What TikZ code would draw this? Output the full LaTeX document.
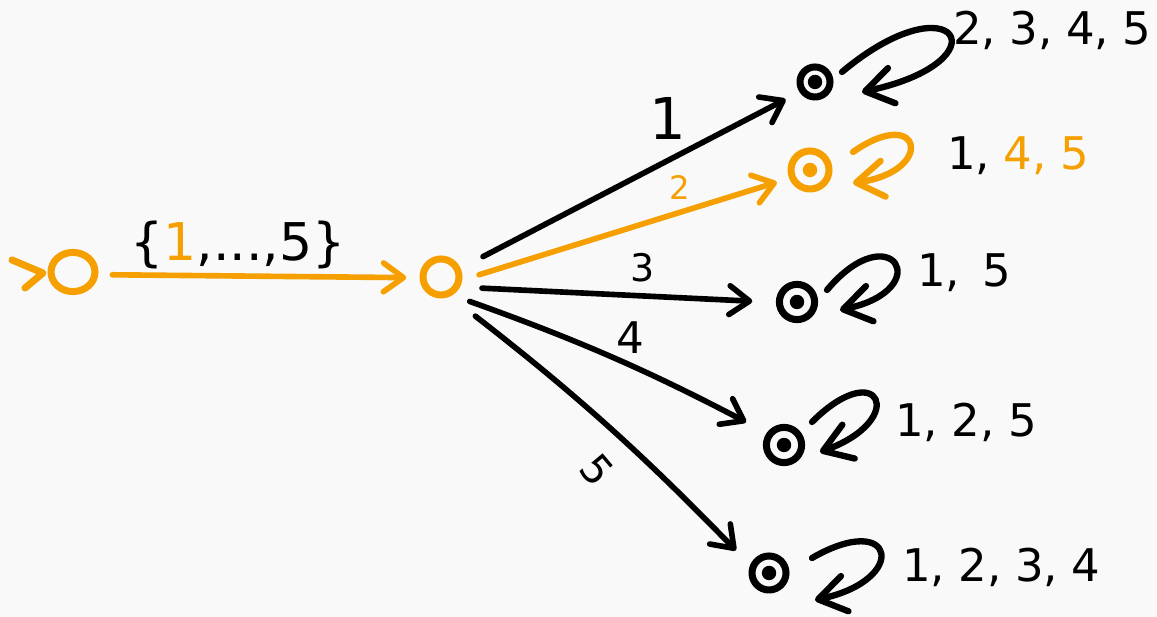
\documentclass[tikz,border=0pt]{standalone}
\usepackage{fontspec}
\setmainfont{DejaVu Sans}
\usepackage{tikz}
\usetikzlibrary{arrows.meta,shapes.geometric}
\definecolor{accent}{HTML}{F59F00}
\definecolor{paper}{HTML}{F9F9F9}
\newcommand{\lsep}{,\hspace{0.3em}}

\begin{document}
\begin{tikzpicture}[
  x=0.025cm,
  y=0.025cm,
  line cap=round,
  line join=round,
  start/.style={ellipse, draw=accent, line width=5pt, inner sep=0pt, minimum width=1.1cm, minimum height=0.98cm},
  plain/.style={circle, draw=accent, line width=5pt, inner sep=0pt, minimum size=0.9cm},
  accept/.style={circle, draw=#1, line width=5pt, inner sep=0pt, minimum size=0.85cm,
    path picture={\fill[#1] (path picture bounding box.center) circle (0.18cm);}},
  accept/.default=black,
  trans/.style={line width=4pt, -{Straight Barb[length=0.5cm,width=0.72cm,round]}},
  selfloop/.style={line width=4.5pt, -{Straight Barb[length=0.68cm,width=0.9cm,round]}},
  lbl/.style={font=\fontsize{32}{36}\selectfont, anchor=base west, inner sep=0pt},
  sym/.style={font=\fontsize{#1}{#1}\selectfont, inner sep=0pt}
]
  \fill[paper] (0,0) rectangle (1157,617);
  \useasboundingbox (0,0) rectangle (1157,617);

  \node[start] (q0) at (73,345) {};
  \node[plain] (q1) at (441,340) {};
  \node[accept, minimum size=0.75cm] (s1) at (815,535) {};
  \node[accept=accent, minimum size=0.95cm] (s2) at (810,447) {};
  \node[accept, minimum size=0.88cm] (s3) at (797,315) {};
  \node[accept, minimum size=0.88cm] (s4) at (784,172) {};
  \node[accept] (s5) at (769,44) {};

  \coordinate (init) at (43,344);
  \draw[accent, line width=5pt] (init) ++(-31,13) -- (init) -- ++(-18,-15);

  \draw[trans, accent, shorten <=0.35cm, shorten >=0.33cm] (q0.-6) -- (q1.182);
  \draw[trans, shorten <=0.63cm, shorten >=0.39cm] (q1.24) -- (s1.213);
  \draw[trans, accent, shorten <=0.44cm, shorten >=0.32cm] (q1.-8) -- (s2.202);
  \draw[trans, shorten <=0.55cm, shorten >=0.59cm] (q1.-28) -- (s3.181);
  \draw[trans, shorten <=0.46cm, shorten >=0.58cm] (q1.-58) to[bend left=4] (s4.145);
  \draw[trans, shorten <=0.8cm, shorten >=0.51cm] (q1.-65) to[bend left=4] (s5.157);

  \foreach \s/\c/\ax/\ay/\bx/\by/\o/\i/\d in {
    s1/black/27/10/47/-10/40/12/3.7cm,
    s2/accent/43/18/43/-13/35/8/2.1cm,
    s3/black/30/12/43/-8/50/12/2.5cm,
    s4/black/28/23/36/-7/45/20/2.38cm,
    s5/black/43/15/46/-27/30/12/2.42cm}
    \draw[selfloop, \c] ([shift={(\ax,\ay)}]\s.center) to[out=\o, in=\i, distance=\d] ([shift={(\bx,\by)}]\s.center);

  \node[sym=37] (w0) at (238,372) {\{\textcolor{accent}{1},...,5\}};
  \node[sym=41] (w1) at (668,499) {1};
  \node[sym=23, text=accent] (w2) at (680,429) {2};
  \node[sym=27] (w3) at (643,349) {3};
  \node[sym=31] (w4) at (630,279) {4};
  \node[sym=29, rotate=-50] (w5) at (597,147) {5};

  \node[lbl] (m1) at (953,572) {2\lsep 3\lsep 4\lsep 5};
  \node[lbl] (m2) at (947,447) {1\lsep\textcolor{accent}{4\lsep 5}};
  \node[lbl] (m3) at (917,330) {1\lsep\hspace{0.2em}5};
  \node[lbl] (m4) at (895,180) {1\lsep 2\lsep 5};
  \node[lbl] (m5) at (902,35) {1\lsep 2\lsep 3\lsep 4};
\end{tikzpicture}
\end{document}
